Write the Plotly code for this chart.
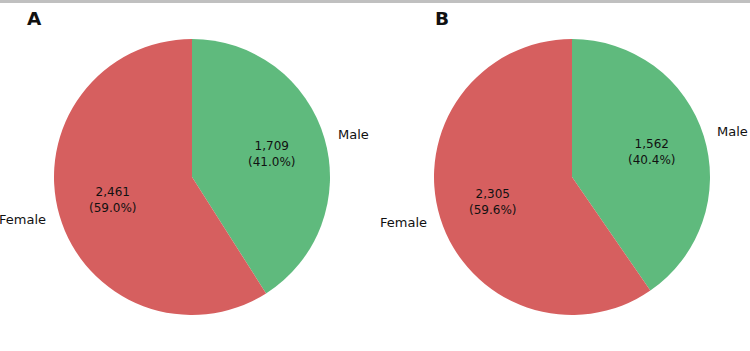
import math
import plotly.graph_objects as go

labels = ["Male", "Female"]
values_a = [1709, 2461]
values_b = [1562, 2305]
panel_titles = ["A", "B"]
colors = ["#5fba7d", "#d65f5f"]

W, H = 750, 351
panels = [
    dict(values=values_a, cx=192, cy=177, r=138, title=panel_titles[0], tx=34),
    dict(values=values_b, cx=572, cy=177, r=138, title=panel_titles[1], tx=442),
]

fig = go.Figure()
annotations = []
FONT = "DejaVu Sans, sans-serif"

for p in panels:
    cx, cy, r = p["cx"], p["cy"], p["r"]
    fig.add_trace(go.Pie(
        labels=labels, values=p["values"], sort=False, direction="clockwise",
        rotation=0, marker=dict(colors=colors, line=dict(width=0)),
        textinfo="none", hoverinfo="label+value+percent", showlegend=False,
        domain=dict(x=[(cx - r) / W, (cx + r) / W], y=[1 - (cy + r) / H, 1 - (cy - r) / H]),
    ))
    total = sum(p["values"])
    start = 90.0
    for lab, v in zip(labels, p["values"]):
        frac = v / total
        mid = start - frac * 360 / 2
        start -= frac * 360
        a = math.radians(mid)
        c, s = math.cos(a), math.sin(a)
        lx, ly = cx + 1.1 * r * c, cy - 1.1 * r * s
        annotations.append(dict(
            x=lx / W, y=1 - ly / H, xref="paper", yref="paper", text=lab,
            showarrow=False, xanchor="left" if c > 0 else "right", yanchor="middle",
            borderpad=0, borderwidth=0,
            font=dict(family=FONT, size=13, color="#111"),
        ))
        ix, iy = cx + 0.6 * r * c, cy - 0.6 * r * s
        annotations.append(dict(
            x=ix / W, y=1 - iy / H, xref="paper", yref="paper",
            text=f"{v:,}<br>({frac * 100:.1f}%)",
            showarrow=False, xanchor="center", yanchor="middle",
            borderpad=0, borderwidth=0,
            font=dict(family=FONT, size=12, color="#111"),
        ))
    annotations.append(dict(
        x=p["tx"] / W, y=1 - 19 / H, xref="paper", yref="paper", text=f"<b>{p['title']}</b>",
        showarrow=False, xanchor="center", yanchor="middle",
        font=dict(family=FONT, size=18.5, color="#111"),
    ))

fig.update_layout(
    width=W, height=H, margin=dict(l=0, r=0, t=0, b=0),
    paper_bgcolor="white", plot_bgcolor="white",
    annotations=annotations,
    shapes=[dict(type="rect", xref="paper", yref="paper", x0=0, x1=1,
                 y0=1 - 3 / H, y1=1, fillcolor="#c0c0c0", line=dict(width=0))],
)

fig.write_html("out.html")
